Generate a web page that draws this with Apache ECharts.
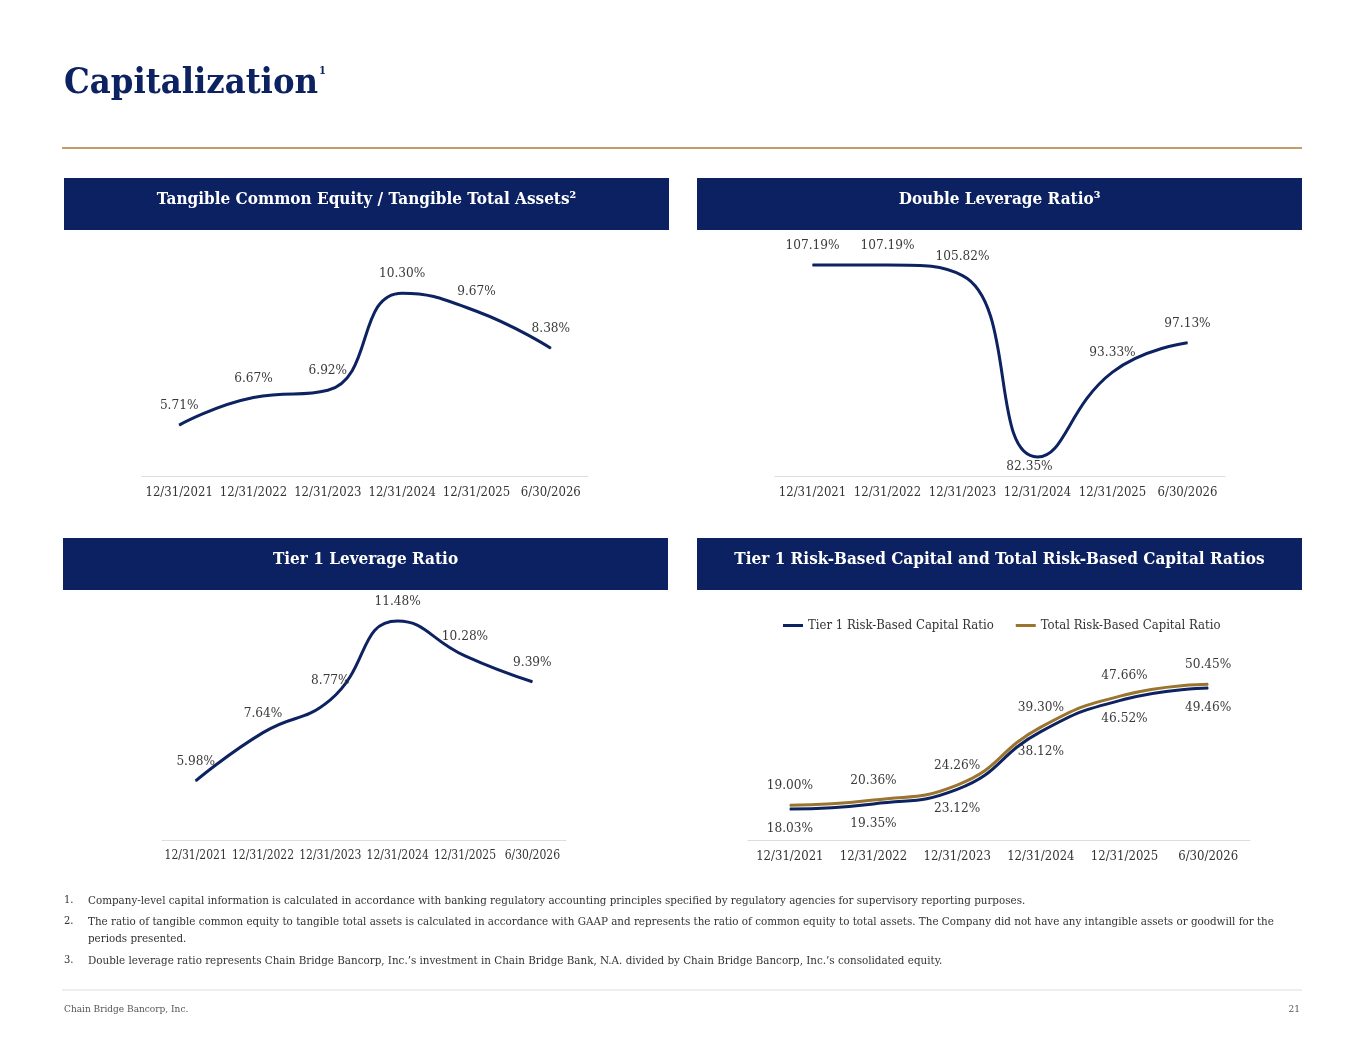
<!DOCTYPE html>
<html><head><meta charset="utf-8">
<script src="https://cdn.jsdelivr.net/npm/echarts@6/dist/echarts.min.js"></script>
<style>
body{margin:0;background:#fff;}
#chart{position:absolute;left:0;top:0;width:1365px;height:1055px;}
</style></head>
<body>
<div id="chart"></div>
<script>
// categories and values
var dates = ['12/31/2021', '12/31/2022', '12/31/2023', '12/31/2024', '12/31/2025', '6/30/2026'];
var tceRatio = [5.71, 6.67, 6.92, 10.30, 9.67, 8.38];
var doubleLev = [107.19, 107.19, 105.82, 82.35, 93.33, 97.13];
var tier1Lev = [5.98, 7.64, 8.77, 11.48, 10.28, 9.39];
var tier1Rbc = [18.03, 19.35, 23.12, 38.12, 46.52, 49.46];
var totalRbc = [19.00, 20.36, 24.26, 39.30, 47.66, 50.45];

var navy = '#0d2260', gold = '#9b7430';
var serif = '"DejaVu Serif Condensed", "DejaVu Serif"';
var chart = echarts.init(document.getElementById('chart'));

var grids = [
  {left: 142, top: 250, width: 446, height: 226},
  {left: 775, top: 250, width: 450, height: 226},
  {left: 162, top: 600, width: 404, height: 240},
  {left: 748, top: 650, width: 502, height: 190}
];
var ranges = [[3.94, 11.8], [79.89, 109.13], [3.95, 12.2], [9.98, 59.33]];

function header(x, y, w, text) {
  return [
    {type: 'rect', shape: {x: x, y: y, width: w, height: 52}, style: {fill: '#0b2161'}},
    {type: 'text', x: x + w / 2, y: y + 22, style: {text: text, fill: '#fff', font: 'bold 17px ' + serif, align: 'center', verticalAlign: 'middle'}}
  ];
}
function foot(y, num, text) {
  return [
    {type: 'text', x: 64, y: y + 2, style: {text: num, fill: '#333', font: '11px ' + serif}},
    {type: 'text', x: 88, y: y, style: {text: text, fill: '#333', font: '11.5px ' + serif, lineHeight: 17}}
  ];
}

function lineSeries(i, name, data, color, pos) {
  return {
    name: name, type: 'line', xAxisIndex: i, yAxisIndex: i, data: data, smooth: 0.5,
    symbol: 'circle', symbolSize: 1, showSymbol: true,
    lineStyle: {color: color, width: 3}, itemStyle: {color: color},
    label: {show: true, position: pos, distance: 12, color: '#3a3a3a', fontFamily: serif, fontSize: 13.5,
      formatter: function (p) { return p.value.toFixed(2) + '%'; }}
  };
}

var dlSeries = lineSeries(1, 'dl', doubleLev, navy, 'top');
dlSeries.data = doubleLev.map(function (v, k) {
  return k == 3 ? {value: v, label: {position: 'bottom', distance: 2, offset: [-8, 0]}} : v;
});

chart.setOption({
  animation: false,
  grid: grids,
  xAxis: grids.map(function (g, i) {
    return {type: 'category', gridIndex: i, data: dates, boundaryGap: true,
      axisLine: {lineStyle: {color: '#ddd'}}, axisTick: {show: false},
      axisLabel: {color: '#333', fontFamily: serif, fontSize: i == 2 ? 12 : 13, margin: 10, interval: 0}};
  }),
  yAxis: grids.map(function (g, i) {
    return {type: 'value', gridIndex: i, min: ranges[i][0], max: ranges[i][1], show: false, splitLine: {show: false}};
  }),
  legend: {top: 614, left: 778, itemWidth: 20, itemHeight: 3, itemGap: 22, icon: 'rect',
    textStyle: {color: '#333', fontFamily: serif, fontSize: 13},
    data: ['Tier 1 Risk-Based Capital Ratio', 'Total Risk-Based Capital Ratio']},
  series: [
    lineSeries(0, 'tce', tceRatio, navy, 'top'),
    dlSeries,
    lineSeries(2, 't1l', tier1Lev, navy, 'top'),
    lineSeries(3, 'Tier 1 Risk-Based Capital Ratio', tier1Rbc, navy, 'bottom'),
    lineSeries(3, 'Total Risk-Based Capital Ratio', totalRbc, gold, 'top')
  ],
  graphic: [].concat(
    [{type: 'text', x: 64, y: 66, style: {text: '{t|Capitalization}{s|1}', fill: navy,
       rich: {t: {font: 'bold 36px ' + serif, fill: navy}, s: {font: 'bold 11px ' + serif, fill: navy, verticalAlign: 'top', padding: [0, 0, 18, 1]}}}},
     {type: 'line', shape: {x1: 62, y1: 148, x2: 1302, y2: 148}, style: {stroke: '#b07a3a', lineWidth: 1.5}}],
    header(64, 178, 605, 'Tangible Common Equity / Tangible Total Assets²'),
    header(697, 178, 605, 'Double Leverage Ratio³'),
    header(63, 538, 605, 'Tier 1 Leverage Ratio'),
    header(697, 538, 605, 'Tier 1 Risk-Based Capital and Total Risk-Based Capital Ratios'),
    foot(893, '1.', 'Company-level capital information is calculated in accordance with banking regulatory accounting principles specified by regulatory agencies for supervisory reporting purposes.'),
    foot(914, '2.', 'The ratio of tangible common equity to tangible total assets is calculated in accordance with GAAP and represents the ratio of common equity to total assets. The Company did not have any intangible assets or goodwill for the\nperiods presented.'),
    foot(953, '3.', 'Double leverage ratio represents Chain Bridge Bancorp, Inc.’s investment in Chain Bridge Bank, N.A. divided by Chain Bridge Bancorp, Inc.’s consolidated equity.'),
    [{type: 'line', shape: {x1: 62, y1: 990, x2: 1302, y2: 990}, style: {stroke: '#ddd', lineWidth: 1}},
     {type: 'text', x: 64, y: 1004, style: {text: 'Chain Bridge Bancorp, Inc.', fill: '#555', font: '10px ' + serif}},
     {type: 'text', x: 1300, y: 1004, style: {text: '21', fill: '#555', font: '10px ' + serif, align: 'right'}}]
  )
});
</script>
</body></html>
